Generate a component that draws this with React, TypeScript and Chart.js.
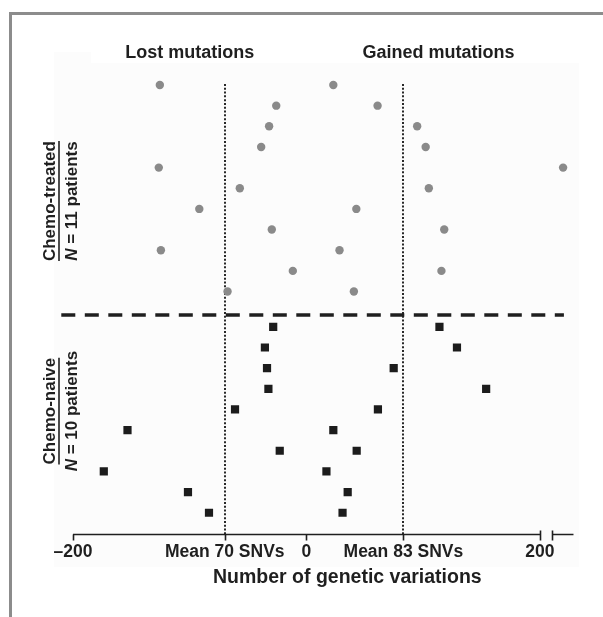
import React, { useEffect, useRef } from "react";
import { Chart, registerables } from "chart.js";

Chart.register(...registerables);

// ---- data ----
const treatedLost = [-125.6, -25.9, -32.0, -38.8, -126.5, -57.1, -91.8, -29.7, -124.7, -11.7, -67.6];
const treatedGained = [23.0, 60.9, 94.8, 102.1, 219.8, 104.8, 42.7, 118.0, 28.3, 115.6, 40.6];
const naiveLost = [-28.5, -35.6, -33.8, -32.6, -61.2, -153.3, -22.9, -173.6, -101.5, -83.5];
const naiveGained = [113.9, 128.9, 74.7, 153.9, 61.2, 23.0, 43.0, 17.1, 35.3, 30.9];

const tickValues = [-200, -70, 0, 83, 200];
const tickLabels = ["\u2013200", "Mean 70 SNVs", "0", "Mean 83 SNVs", "200"];
const meanLines = [-70, 83];
const sideTitles = ["Lost mutations", "Gained mutations"];
const sideTitleAt = [-100, 113];
const groupNames = ["Chemo-treated", "Chemo-naive"];
const groupCounts = ["11", "10"];
const xTitle = "Number of genetic variations";

// ---- layout constants (row positions on the linear y scale) ----
const TREATED_START = 1;
const SEPARATOR = 12.14;
const NAIVE_START = 12.71;
const Y_MAX = 22.74;
const X_MIN = -210;
const X_MAX = 233;
const AXIS_SEG2 = [210.5, 228.7];
const SEP_END = 220.5;

const FONT = '"Liberation Sans", Arial, Helvetica, sans-serif';
const INK = "#1f1f1f";

const rowsFrom = (start: number, arr: number[]) => arr.map((v, i) => ({ x: v, y: start + i }));

const decor = {
  id: "decor",
  beforeDraw(chart: any) {
    const ctx = chart.ctx;
    ctx.save();
    ctx.fillStyle = "#ffffff";
    ctx.fillRect(0, 0, chart.width, chart.height);
    ctx.fillStyle = "#fcfcfc";
    ctx.fillRect(54, 52, 525, 515);
    ctx.fillStyle = "#ffffff";
    ctx.fillRect(91, 44, 488, 19);
    // panel frame
    ctx.strokeStyle = "#8c8c8c";
    ctx.lineWidth = 3;
    ctx.beginPath();
    ctx.moveTo(10.5, chart.height);
    ctx.lineTo(10.5, 13.5);
    ctx.lineTo(chart.width, 13.5);
    ctx.stroke();
    ctx.restore();
  },
  beforeDatasetsDraw(chart: any) {
    const ctx = chart.ctx;
    const xs = chart.scales.x;
    const ys = chart.scales.y;
    const yA = chart.chartArea.bottom;
    ctx.save();
    // mean dotted lines
    ctx.strokeStyle = INK;
    ctx.lineWidth = 1.9;
    ctx.setLineDash([2, 1.8]);
    meanLines.forEach((m) => {
      const px = Math.round(xs.getPixelForValue(m));
      ctx.beginPath();
      ctx.moveTo(px, ys.getPixelForValue(0.95));
      ctx.lineTo(px, yA);
      ctx.stroke();
    });
    // separator dashed line
    ctx.setLineDash([14, 9.5]);
    ctx.lineWidth = 3.5;
    const sy = ys.getPixelForValue(SEPARATOR);
    ctx.beginPath();
    ctx.moveTo(xs.getPixelForValue(X_MIN), sy);
    ctx.lineTo(xs.getPixelForValue(SEP_END), sy);
    ctx.stroke();
    ctx.setLineDash([]);
    // x axis with break
    ctx.lineWidth = 1.6;
    ctx.strokeStyle = INK;
    const ay = Math.round(yA) + 0.5;
    ctx.beginPath();
    ctx.moveTo(xs.getPixelForValue(tickValues[0]), ay);
    ctx.lineTo(xs.getPixelForValue(tickValues[tickValues.length - 1]), ay);
    ctx.moveTo(xs.getPixelForValue(AXIS_SEG2[0]), ay);
    ctx.lineTo(xs.getPixelForValue(AXIS_SEG2[1]), ay);
    ctx.stroke();
    ctx.beginPath();
    tickValues.forEach((t, i) => {
      const px = Math.round(xs.getPixelForValue(t)) + 0.5;
      if (i === tickValues.length - 1) {
        ctx.moveTo(px, ay - 4);
        ctx.lineTo(px, ay + 6);
      } else {
        ctx.moveTo(px, ay);
        ctx.lineTo(px, ay + 6);
      }
    });
    const bx = Math.round(xs.getPixelForValue(AXIS_SEG2[0])) + 0.5;
    ctx.moveTo(bx, ay - 4);
    ctx.lineTo(bx, ay + 6);
    ctx.stroke();
    ctx.restore();
  },
  afterDraw(chart: any) {
    const ctx = chart.ctx;
    const xs = chart.scales.x;
    const ys = chart.scales.y;
    const yA = chart.chartArea.bottom;
    ctx.save();
    ctx.fillStyle = INK;
    ctx.textAlign = "center";
    ctx.textBaseline = "middle";
    // tick labels
    ctx.font = `bold 17.5px ${FONT}`;
    tickValues.forEach((t, i) => {
      ctx.fillText(tickLabels[i], xs.getPixelForValue(t), yA + 18);
    });
    // x title
    ctx.font = `bold 19.5px ${FONT}`;
    ctx.fillText(xTitle, xs.getPixelForValue(35), 578);
    // side titles
    ctx.font = `bold 18px ${FONT}`;
    sideTitles.forEach((s, i) => ctx.fillText(s, xs.getPixelForValue(sideTitleAt[i]), 53));
    // group labels (rotated)
    const centers = [ys.getPixelForValue(6.62), ys.getPixelForValue(16.79)];
    groupNames.forEach((name, i) => {
      const cy = centers[i];
      ctx.save();
      ctx.translate(50, cy);
      ctx.rotate(-Math.PI / 2);
      ctx.font = `bold 17px ${FONT}`;
      const w = ctx.measureText(name).width;
      ctx.textAlign = "center";
      ctx.fillText(name, 0, 0);
      ctx.restore();
      // bar
      ctx.save();
      ctx.strokeStyle = INK;
      ctx.lineWidth = 1.6;
      ctx.beginPath();
      ctx.moveTo(59, cy - w / 2);
      ctx.lineTo(59, cy + w / 2);
      ctx.stroke();
      ctx.restore();
      // N = ...
      ctx.save();
      ctx.translate(72, cy);
      ctx.rotate(-Math.PI / 2);
      ctx.textAlign = "left";
      ctx.font = `italic bold 17px ${FONT}`;
      const wn = ctx.measureText("N").width;
      ctx.font = `bold 17px ${FONT}`;
      const rest = ` = ${groupCounts[i]} patients`;
      const wr = ctx.measureText(rest).width;
      const start = -(wn + wr) / 2;
      ctx.font = `italic bold 17px ${FONT}`;
      ctx.fillText("N", start, 0);
      ctx.font = `bold 17px ${FONT}`;
      ctx.fillText(rest, start + wn, 0);
      ctx.restore();
    });
    ctx.restore();
  },
};

export default function App() {
  const ref = useRef<HTMLCanvasElement | null>(null);
  useEffect(() => {
    if (!ref.current) return;
    const circle = { pointStyle: "circle", pointRadius: 4.2, backgroundColor: "#8a8a8a", borderColor: "#8a8a8a", borderWidth: 0 };
    const square = { pointStyle: "rect", pointRadius: 5.8, backgroundColor: "#1c1c1c", borderColor: "#1c1c1c", borderWidth: 0 };
    const chart = new Chart(ref.current, {
      type: "scatter",
      data: {
        datasets: [
          { label: "Chemo-treated lost", data: rowsFrom(TREATED_START, treatedLost), ...circle },
          { label: "Chemo-treated gained", data: rowsFrom(TREATED_START, treatedGained), ...circle },
          { label: "Chemo-naive lost", data: rowsFrom(NAIVE_START, naiveLost), ...square },
          { label: "Chemo-naive gained", data: rowsFrom(NAIVE_START, naiveGained), ...square },
        ] as any,
      },
      options: {
        responsive: false,
        animation: false,
        events: [],
        layout: { padding: { left: 61.3, right: 24.5, top: 64.35, bottom: 83 } },
        plugins: { legend: { display: false }, tooltip: { enabled: false }, title: { display: false } },
        scales: {
          x: { type: "linear", min: X_MIN, max: X_MAX, display: false },
          y: { type: "linear", min: 0, max: Y_MAX, reverse: true, display: false },
        },
      } as any,
      plugins: [decor],
    });
    return () => chart.destroy();
  }, []);
  return (
    <div style={{ position: "fixed", left: 0, top: 0, width: 603, height: 617, background: "#fff" }}>
      <canvas ref={ref} width={603} height={617} style={{ display: "block", width: 603, height: 617 }} />
    </div>
  );
}
